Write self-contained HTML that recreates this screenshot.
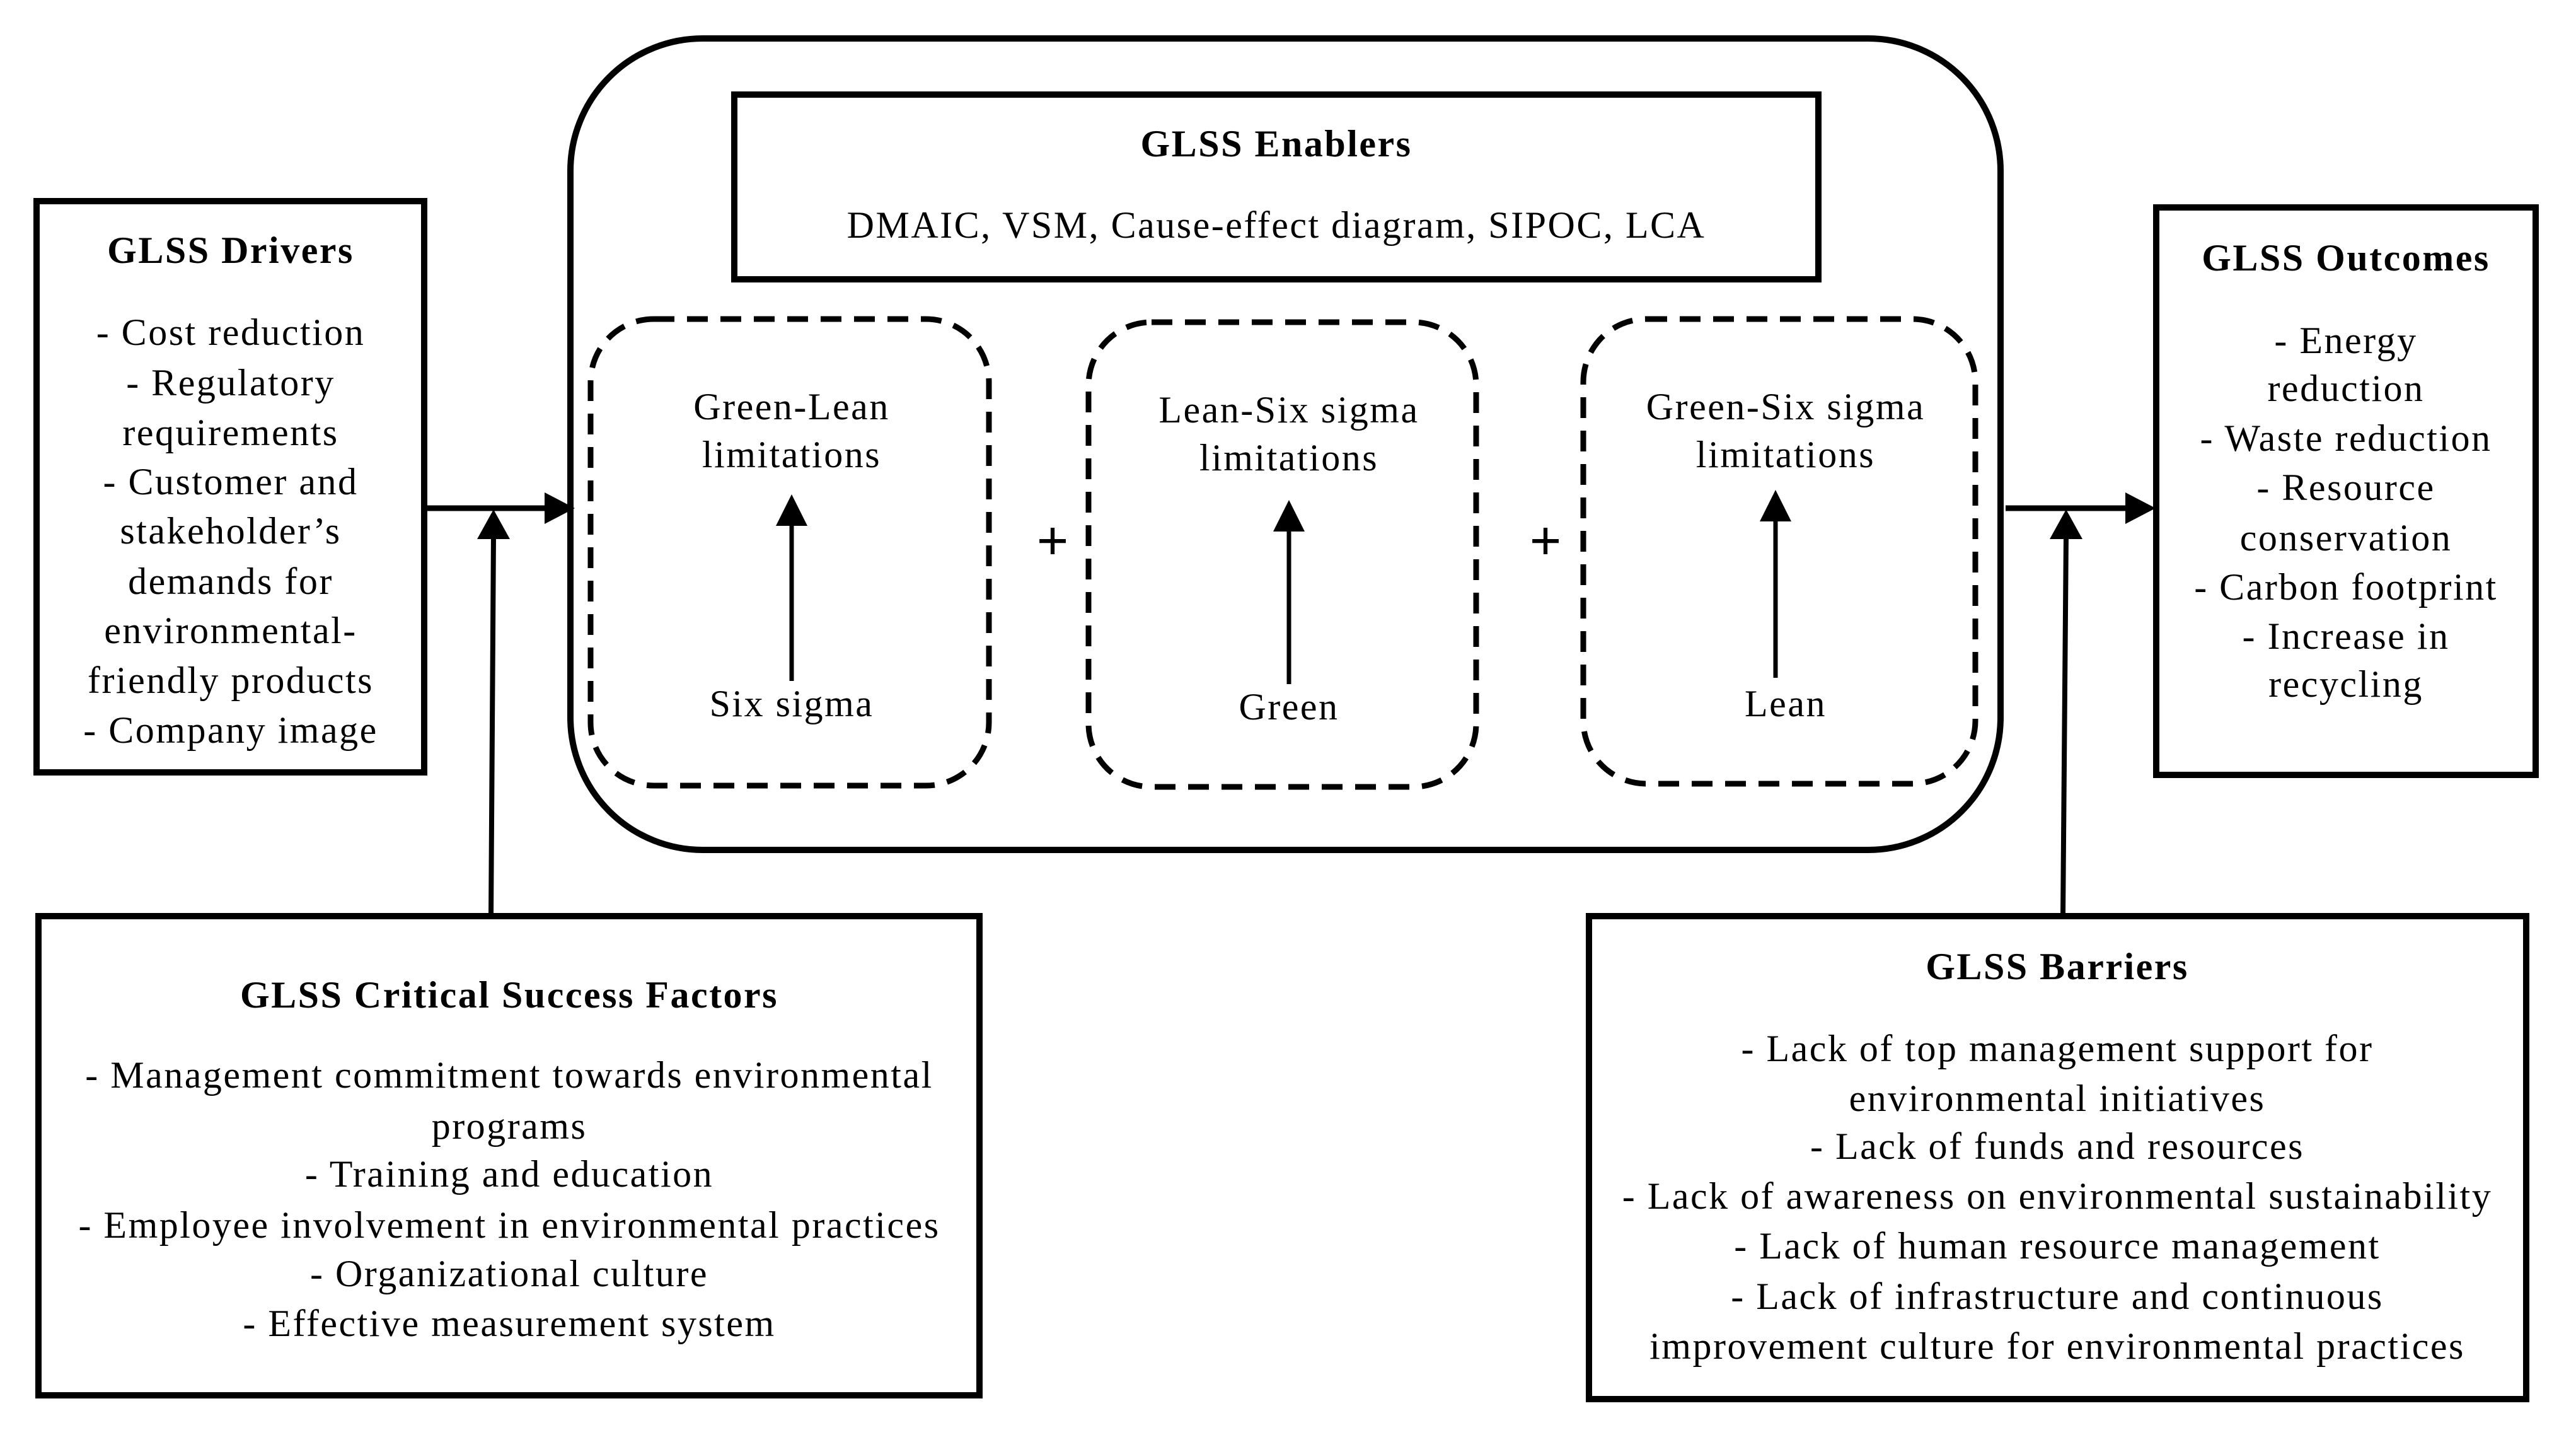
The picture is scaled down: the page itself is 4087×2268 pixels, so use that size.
<!DOCTYPE html>
<html><head><meta charset="utf-8"><style>
html,body{margin:0;padding:0;background:#fff;}
svg{display:block;}
text{font-family:"Liberation Serif",serif;font-size:60px;fill:#000;text-anchor:middle;letter-spacing:2.5px;}
.b{font-weight:bold;}
</style></head><body>
<svg width="4087" height="2268" viewBox="0 0 4087 2268" xmlns="http://www.w3.org/2000/svg">
<g fill="none" stroke="#000">
<rect x="905" y="61" width="2269" height="1287" rx="210" ry="210" stroke-width="10"/>
<rect x="1165" y="150" width="1720" height="293" stroke-width="10"/>
<rect x="937" y="506" width="632" height="740" rx="100" ry="100" stroke-width="9" stroke-dasharray="33 20"/>
<rect x="1727" y="511" width="615" height="737" rx="100" ry="100" stroke-width="9" stroke-dasharray="33 20"/>
<rect x="2512" y="506" width="622" height="737" rx="100" ry="100" stroke-width="9" stroke-dasharray="33 20"/>
<rect x="58" y="319" width="615" height="906" stroke-width="10"/>
<rect x="3421" y="329" width="602" height="900" stroke-width="10"/>
<rect x="61" y="1453" width="1493" height="760" stroke-width="10"/>
<rect x="2521" y="1453" width="1487" height="766" stroke-width="10"/>
<line x1="673" y1="806" x2="870" y2="806" stroke-width="9"/>
<line x1="779" y1="1453" x2="783" y2="850" stroke-width="8"/>
<line x1="3182" y1="806" x2="3375" y2="806" stroke-width="9"/>
<line x1="3273" y1="1453" x2="3278" y2="850" stroke-width="8"/>
<line x1="1256" y1="1080" x2="1256" y2="820" stroke-width="7"/>
<line x1="2045" y1="1085" x2="2045" y2="830" stroke-width="7"/>
<line x1="2817" y1="1075" x2="2817" y2="815" stroke-width="7"/>
</g>
<g fill="#000">
<polygon points="912,806 864,781 864,831"/>
<polygon points="783,808 757,855 809,855"/>
<polygon points="3420,806 3372,781 3372,831"/>
<polygon points="3278,808 3252,855 3304,855"/>
<polygon points="1256,784 1231,834 1281,834"/>
<polygon points="2045,793 2020,843 2070,843"/>
<polygon points="2817,777 2792,827 2842,827"/>
</g>
<text x="1670" y="888" class="b" style="font-size:90px;letter-spacing:0">+</text>
<text x="2452" y="888" class="b" style="font-size:90px;letter-spacing:0">+</text>
<text x="2025" y="248" class="b">GLSS Enablers</text>
<text x="2025" y="377">DMAIC, VSM, Cause-effect diagram, SIPOC, LCA</text>
<text x="1256" y="665">Green-Lean</text>
<text x="1256" y="741">limitations</text>
<text x="1256" y="1136">Six sigma</text>
<text x="2045" y="670">Lean-Six sigma</text>
<text x="2045" y="746">limitations</text>
<text x="2045" y="1141">Green</text>
<text x="2833" y="665">Green-Six sigma</text>
<text x="2833" y="741">limitations</text>
<text x="2833" y="1136">Lean</text>
<text x="366" y="417" class="b">GLSS Drivers</text>
<text x="366" y="547">- Cost reduction</text>
<text x="366" y="627">- Regulatory</text>
<text x="366" y="706">requirements</text>
<text x="366" y="784">- Customer and</text>
<text x="366" y="862">stakeholder’s</text>
<text x="366" y="942">demands for</text>
<text x="366" y="1020">environmental-</text>
<text x="366" y="1099">friendly products</text>
<text x="366" y="1178">- Company image</text>
<text x="3722" y="429" class="b">GLSS Outcomes</text>
<text x="3722" y="560">- Energy</text>
<text x="3722" y="636">reduction</text>
<text x="3722" y="715">- Waste reduction</text>
<text x="3722" y="793">- Resource</text>
<text x="3722" y="873">conservation</text>
<text x="3722" y="951">- Carbon footprint</text>
<text x="3722" y="1029">- Increase in</text>
<text x="3722" y="1105">recycling</text>
<text x="808" y="1598" class="b">GLSS Critical Success Factors</text>
<text x="808" y="1725">- Management commitment towards environmental</text>
<text x="808" y="1806">programs</text>
<text x="808" y="1882">- Training and education</text>
<text x="808" y="1963">- Employee involvement in environmental practices</text>
<text x="808" y="2040">- Organizational culture</text>
<text x="808" y="2119">- Effective measurement system</text>
<text x="3264" y="1553" class="b">GLSS Barriers</text>
<text x="3264" y="1683">- Lack of top management support for</text>
<text x="3264" y="1762">environmental initiatives</text>
<text x="3264" y="1838">- Lack of funds and resources</text>
<text x="3264" y="1917">- Lack of awareness on environmental sustainability</text>
<text x="3264" y="1996">- Lack of human resource management</text>
<text x="3264" y="2076">- Lack of infrastructure and continuous</text>
<text x="3264" y="2155">improvement culture for environmental practices</text>
</svg>
</body></html>
